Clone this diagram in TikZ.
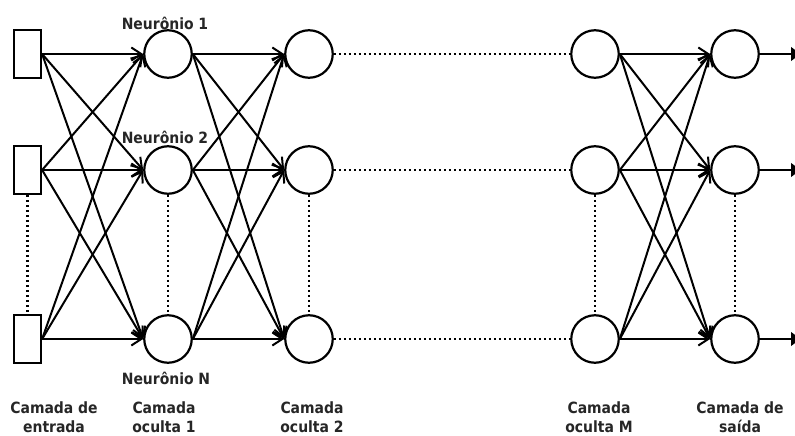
\documentclass[tikz,border=0pt]{standalone}
\usepackage{fontspec}
\setmainfont{DejaVu Sans Condensed}
\usetikzlibrary{arrows.meta}

\begin{document}
\begin{tikzpicture}[x=1pt,y=-1pt,
  neuron/.style={draw,circle,line width=2.2pt,minimum size=47.5pt,inner sep=0pt},
  entrada/.style={draw,rectangle,line width=2.2pt,minimum width=27pt,minimum height=48pt,inner sep=0pt},
  seta/.style={-{Straight Barb[length=10pt,width=13pt]},line width=2pt},
  saida/.style={-{Latex[length=12pt,width=15pt]},line width=2.2pt},
  pontos/.style={line width=2.2pt,dash pattern=on 2pt off 3pt},
  rotulo/.style={font=\fontsize{15.5}{18.5}\selectfont\bfseries,align=center,inner sep=0pt,text=black!85}]
\useasboundingbox (0,0) rectangle (795,436);
% camada de entrada
\node[entrada] (E1) at (27.5,54) {};
\node[entrada] (E2) at (27.5,170) {};
\node[entrada] (E3) at (27.5,339) {};
% camadas ocultas
\node[neuron] (A1) at (168,54) {};
\node[neuron] (A2) at (168,170) {};
\node[neuron] (A3) at (168,339) {};
\node[neuron] (B1) at (309,54) {};
\node[neuron] (B2) at (309,170) {};
\node[neuron] (B3) at (309,339) {};
\node[neuron] (M1) at (595,54) {};
\node[neuron] (M2) at (595,170) {};
\node[neuron] (M3) at (595,339) {};
% camada de saida
\node[neuron] (S1) at (735,54) {};
\node[neuron] (S2) at (735,170) {};
\node[neuron] (S3) at (735,339) {};
\coordinate (O1) at (803,54);
\coordinate (O2) at (803,170);
\coordinate (O3) at (803,339);
% rotulos
\node[rotulo] (N1) at (165,23) {Neurônio 1};
\node[rotulo] (N2) at (165,137) {Neurônio 2};
\node[rotulo] (NN) at (166,378) {Neurônio N};
\node[rotulo] (L0) at (54,417) {Camada de\\entrada};
\node[rotulo] (L1) at (164,417) {Camada\\oculta 1};
\node[rotulo] (L2) at (312,417) {Camada\\oculta 2};
\node[rotulo] (LM) at (599,417) {Camada\\oculta M};
\node[rotulo] (LS) at (740,417) {Camada de\\saída};
% conexoes
\foreach \i in {1,2,3}{
  \foreach \j in {1,2,3}{
    \draw[seta] (E\i.east) -- (A\j.west);
    \draw[seta] (A\i.east) -- (B\j.west);
    \draw[seta] (M\i.east) -- (S\j.west);
  }
  \draw[pontos] (B\i) -- (M\i);
  \draw[saida] (S\i) -- (O\i);
}
\draw[pontos] (E2) -- (E3);
\draw[pontos] (A2) -- (A3);
\draw[pontos] (B2) -- (B3);
\draw[pontos] (M2) -- (M3);
\draw[pontos] (S2) -- (S3);
\end{tikzpicture}
\end{document}
